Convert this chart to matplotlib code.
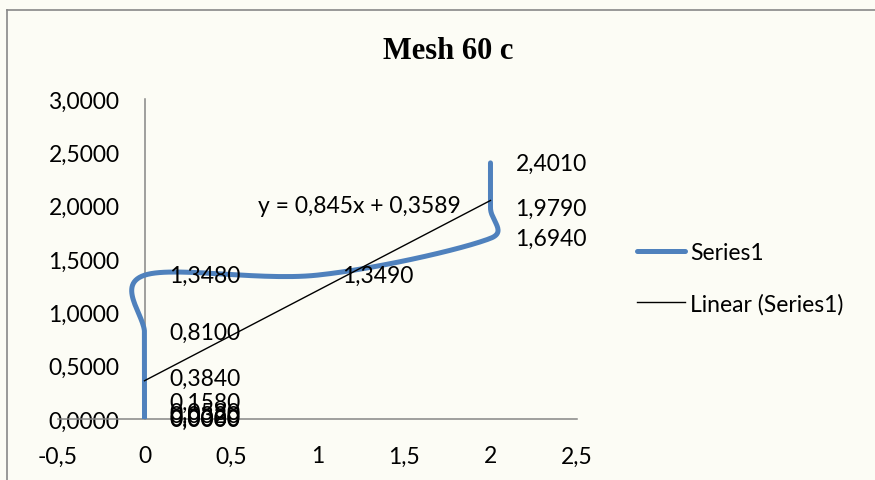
import numpy as np
import matplotlib.pyplot as plt
from matplotlib.lines import Line2D
from matplotlib.ticker import FuncFormatter

# --- data (x = mesh step, y = value) ---
x_vals = [0, 0, 0, 0, 0, 0, 0, 0, 1, 2, 2, 2]
y_vals = [0.0000, 0.0080, 0.0320, 0.0580, 0.1580, 0.3840, 0.8100, 1.3480,
          1.3490, 1.6940, 1.9790, 2.4010]
eq_text = "y = 0,845x + 0,3589"
x_ticks = [-0.5, 0, 0.5, 1, 1.5, 2, 2.5]
y_ticks = [0, 0.5, 1, 1.5, 2, 2.5, 3]

blue = '#4F81BD'
bg = '#fcfcf5'
plt.rcParams['font.family'] = ['Lato', 'DejaVu Sans']
fs = 16.5


def smooth(ax, xs, ys, n=30, clamp=0.6):
    # Excel style smoothed line: bezier through points, catmull-rom tangents,
    # worked out in screen space and clamped on short segments
    P = ax.transData.transform(np.column_stack([xs, ys]).astype(float))
    P_ext = np.vstack([P[0], P, P[-1]])
    t = np.linspace(0, 1, n)[:, None]
    out = []
    for i in range(len(P) - 1):
        p0, p1 = P_ext[i + 1], P_ext[i + 2]
        seg_len = np.hypot(*(p1 - p0))
        d1 = (P_ext[i + 2] - P_ext[i]) / 6
        d2 = (P_ext[i + 3] - P_ext[i + 1]) / 6
        for d in (d1, d2):
            L = np.hypot(*d)
            if L > clamp * seg_len and L > 0:
                d *= clamp * seg_len / L
        c1 = p0 + d1
        c2 = p1 - d2
        seg = ((1 - t) ** 3) * p0 + 3 * ((1 - t) ** 2) * t * c1 \
            + 3 * (1 - t) * t ** 2 * c2 + t ** 3 * p1
        out.append(seg if i == 0 else seg[1:])
    out = ax.transData.inverted().transform(np.vstack(out))
    return out[:, 0], out[:, 1]


fig = plt.figure(figsize=(8.75, 4.81), dpi=100, facecolor=bg)
ax = fig.add_axes([0.0663, 0.1268, 0.5931, 0.6653])
ax.set_facecolor('none')
ax.set_xlim(-0.5, 2.5)
ax.set_ylim(0, 3)

sx, sy = smooth(ax, x_vals, y_vals)
ax.plot(sx, sy, color=blue, lw=3.6, solid_capstyle='round', label='Series1', zorder=3)

# linear trendline over the data range
k, b = np.polyfit(x_vals, y_vals, 1)
tx = np.array([min(x_vals), max(x_vals)])
ax.plot(tx, k * tx + b, color='black', lw=1.0, label='Linear (Series1)', zorder=4)

# data labels right of each point
for xv, yv in zip(x_vals, y_vals):
    ax.annotate(f"{yv:.4f}".replace('.', ','), (xv, yv), xytext=(18, 0),
                textcoords='offset points', ha='left', va='center',
                fontsize=fs, zorder=5)

ax.text(0.655, 2.0, eq_text, ha='left', va='center', fontsize=fs, zorder=5)

ax.set_xticks(x_ticks)
ax.set_yticks(y_ticks)
ax.xaxis.set_major_formatter(FuncFormatter(lambda v, p: f"{v:g}".replace('.', ',')))
ax.yaxis.set_major_formatter(FuncFormatter(lambda v, p: f"{v:.4f}".replace('.', ',')))
for s in ['top', 'right']:
    ax.spines[s].set_visible(False)
ax.spines['left'].set_position(('data', 0))
for s in ['left', 'bottom']:
    ax.spines[s].set_color('#868686')
    ax.spines[s].set_linewidth(1.1)
ax.tick_params(axis='x', length=0, pad=19, labelsize=fs)
ax.tick_params(axis='y', length=0, pad=18, labelsize=fs)

ax.legend(loc='center left', bbox_to_anchor=(0.728, 0.42), bbox_transform=fig.transFigure,
          frameon=False, fontsize=fs, handlelength=2.1, handletextpad=0.2,
          labelspacing=1.3, borderpad=0, borderaxespad=0)

fig.text(0.512, 0.893, 'Mesh 60 c', ha='center', va='center', fontsize=22,
         fontweight='bold', family='Liberation Serif')

# chart border (cropped at right and bottom)
fig.add_artist(Line2D([7 / 875, 7 / 875], [0, 470 / 481], color='#888888', lw=1.2,
                      transform=fig.transFigure))
fig.add_artist(Line2D([7 / 875, 1], [470 / 481, 470 / 481], color='#888888', lw=1.2,
                      transform=fig.transFigure))

fig.savefig('out.png', dpi=100, facecolor=bg)
